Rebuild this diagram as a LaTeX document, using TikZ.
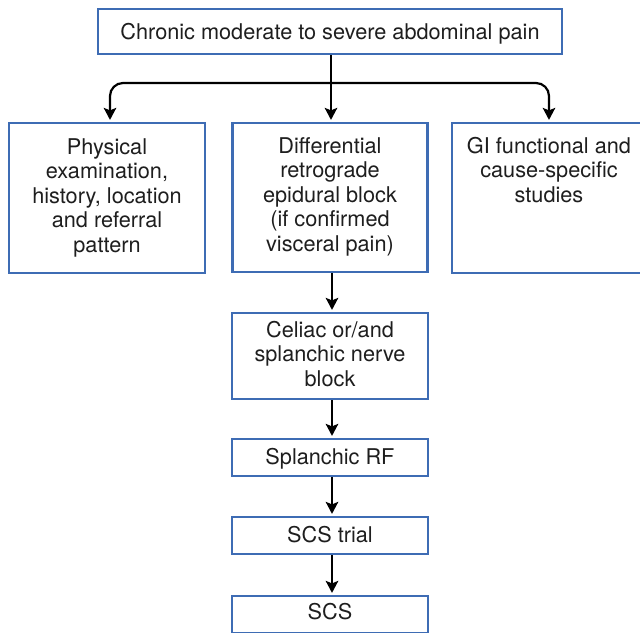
\documentclass[tikz,border=0pt]{standalone}
\usepackage{fontspec}
\setmainfont{TeX Gyre Heros}
\usetikzlibrary{arrows.meta}
\definecolor{boxblue}{RGB}{62,108,180}
\definecolor{inkgray}{RGB}{30,30,30}
% box body: width, height, top padding, centred lines
\newcommand{\flowtext}[4]{\parbox[c][#2][t]{#1}{\centering\vspace*{#3}\rule{0pt}{16pt}#4\par}}
\begin{document}
\begin{tikzpicture}[x=1pt,y=-1pt,
  flowbox/.style={draw=boxblue, line width=2.2pt, inner sep=0pt, fill=white,
    font=\fontsize{21.7}{24.5}\selectfont, text=inkgray},
  flowarrow/.style={draw=black, line width=2.2pt,
    -{Stealth[length=12pt,width=12.5pt,inset=2.5pt]}, shorten >=2pt}]
  \useasboundingbox (0,0) rectangle (640,632);
  \clip (0,0) rectangle (640,632);

  \node[flowbox] (pain) at (330,31.5)
    {\flowtext{464pt}{45pt}{14pt}{Chronic moderate to severe abdominal pain}};

  \node[flowbox] (exam) at (107,198)
    {\flowtext{196pt}{150pt}{15pt}{Physical\\examination,\\history, location\\and referral\\pattern}};
  \node[flowbox] (epid) at (330,197.5)
    {\flowtext{195pt}{149pt}{14pt}{Differential\\retrograde\\epidural block\\(if confirmed\\visceral pain)}};
  \node[flowbox] (gi) at (549,198)
    {\flowtext{194pt}{150pt}{14pt}{GI functional and\\cause-specific\\studies}};

  \node[flowbox] (celiac) at (330,356)
    {\flowtext{196pt}{86pt}{8pt}{Celiac or/and\\splanchic nerve\\block}};
  \node[flowbox] (rf) at (330,457.5)
    {\flowtext{196pt}{37pt}{9pt}{Splanchic RF}};
  \node[flowbox] (trial) at (330,535.5)
    {\flowtext{196pt}{37pt}{9pt}{SCS trial}};
  \node[flowbox] (scs) at (330,614.5)
    {\flowtext{196pt}{37pt}{7pt}{SCS}};

  % branching from the top box
  \coordinate (split) at (331,83);
  \draw[flowarrow] (pain.south -| split) -- (split |- epid.north);
  \draw[flowarrow, rounded corners=13pt] (split) -| ([xshift=3pt]exam.north);
  \draw[flowarrow, rounded corners=13pt] (split) -| (gi.north);

  % main sequence
  \draw[flowarrow] ([xshift=2pt]epid.south) -- ([xshift=2pt]celiac.north);
  \draw[flowarrow] ([xshift=2pt]celiac.south) -- ([xshift=2pt]rf.north);
  \draw[flowarrow] ([xshift=2pt]rf.south) -- ([xshift=2pt]trial.north);
  \draw[flowarrow] ([xshift=2pt]trial.south) -- ([xshift=2pt]scs.north);
\end{tikzpicture}
\end{document}
